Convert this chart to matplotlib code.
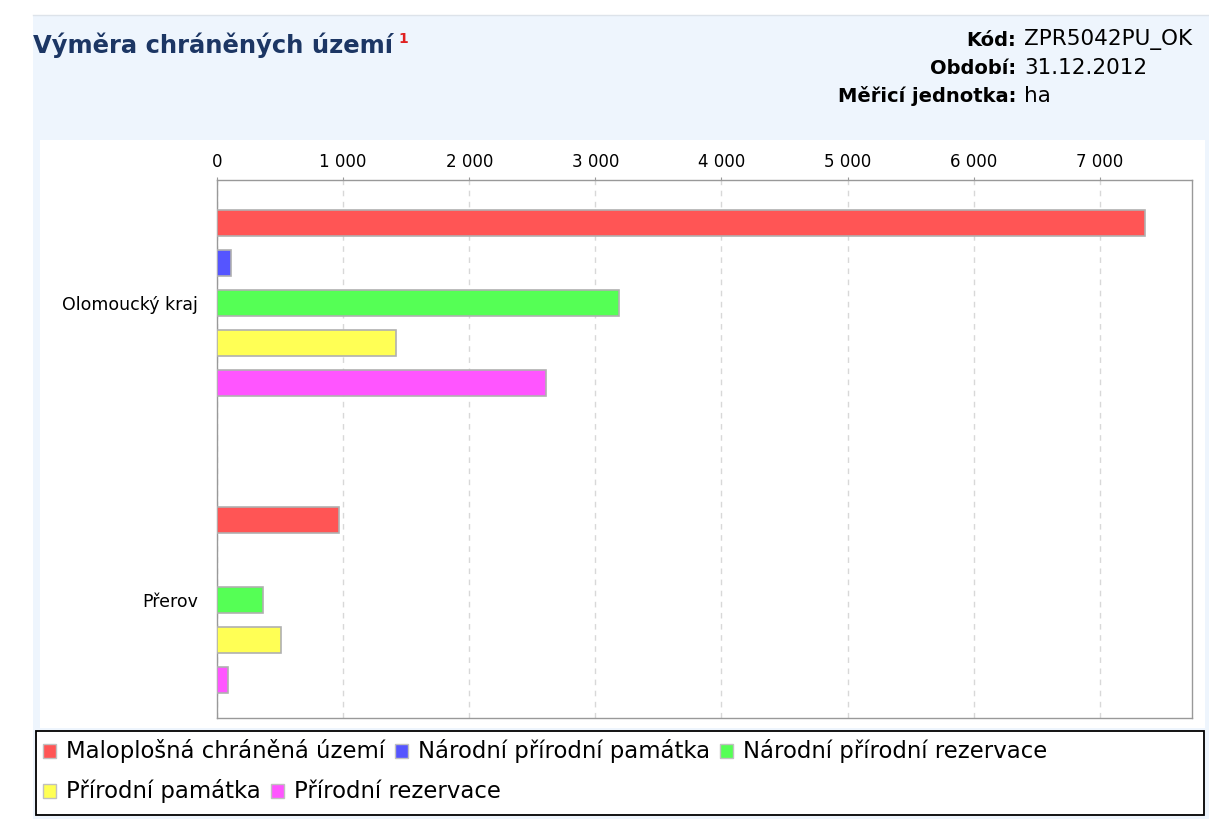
import numpy as np
import matplotlib.pyplot as plt
from matplotlib.patches import Rectangle
from matplotlib.ticker import FuncFormatter

plt.rcParams['font.family'] = ['DejaVu Sans']

# data (ha)
regions = ['Olomoucký kraj', 'Přerov']
series = ['Maloplošná chráněná území', 'Národní přírodní památka',
          'Národní přírodní rezervace', 'Přírodní památka', 'Přírodní rezervace']
maloplosna = [7360, 967]
narodni_pamatka = [111, 0]
narodni_rezervace = [3188, 365]
prirodni_pamatka = [1420, 508]
prirodni_rezervace = [2609, 87]
values = [maloplosna, narodni_pamatka, narodni_rezervace, prirodni_pamatka, prirodni_rezervace]
colors = ['#ff5555', '#5555ff', '#55ff55', '#ffff55', '#ff55ff']

W, H = 1209, 819
fig = plt.figure(figsize=(W / 100, H / 100), dpi=100)
fig.patch.set_facecolor('white')

def px(x, y):
    # pixel coords (top-left origin) -> figure fraction
    return x / W, 1 - y / H

# header / panel backgrounds
bg = '#eef5fd'
fig.patches.append(Rectangle(px(33, 819), (W - 33) / W, (819 - 15) / H,
                             transform=fig.transFigure, facecolor=bg, edgecolor='none', zorder=-5))
fig.patches.append(Rectangle(px(40, 728), (1205 - 40) / W, (728 - 140) / H,
                             transform=fig.transFigure, facecolor='white', edgecolor='none', zorder=-4))
fig.patches.append(Rectangle(px(36, 815), (1204 - 36) / W, (815 - 731) / H,
                             transform=fig.transFigure, facecolor='white', edgecolor='black',
                             linewidth=1.3, zorder=-3))
# faint tab strip on top
fig.lines.append(plt.Line2D([33 / W, 1209 / W], [1 - 15 / H, 1 - 15 / H], transform=fig.transFigure,
                            color='#dde3ea', linewidth=1))

# title and info
t = fig.text(*px(33, 45), 'Výměra chráněných území', fontsize=17.5, fontweight='bold',
             color='#1c3664', va='center', ha='left')
fig.canvas.draw()
bb = t.get_window_extent()
fig.text(bb.x1 / W + 5 / W, px(0, 39)[1], '1', fontsize=10, fontweight='bold', color='#e02020',
         va='center', ha='left')

info = [('Kód:', 'ZPR5042PU_OK'), ('Období:', '31.12.2012'), ('Měřicí jednotka:', 'ha')]
for i, (k, v) in enumerate(info):
    y = 40 + i * 28
    fig.text(*px(1016, y), k, fontsize=14, fontweight='bold', ha='right', va='center')
    fig.text(*px(1024, y), v, fontsize=15.5, ha='left', va='center')

# axes
ax = fig.add_axes([217 / W, 1 - 718 / H, (1192 - 217) / W, (718 - 180) / H])
band = 297.0
bar_h = 26 / band
step = 40 / band
y0 = np.arange(len(regions))
for j, (vals, c) in enumerate(zip(values, colors)):
    ys = y0 + (j - 2) * step
    for yy, v in zip(ys, vals):
        if v > 0:
            ax.barh(yy, v, height=bar_h, color=c, edgecolor='#b0b0b0', linewidth=1.2, zorder=3)

ax.set_ylim((718 - 303) / band, (180 - 303) / band)
ax.set_xlim(0, (1192 - 217) / 126.1 * 1000)
ax.set_yticks(y0)
ax.set_yticklabels(regions, fontsize=12.5)
ax.tick_params(axis='y', length=0, pad=13.5)
ax.xaxis.tick_top()
ax.set_xticks(np.arange(0, 8000, 1000))
ax.xaxis.set_major_formatter(FuncFormatter(lambda v, p: f'{int(v):,}'.replace(',', ' ')))
ax.tick_params(axis='x', labelsize=12, length=2.5, color='#999999', pad=4)
ax.grid(axis='x', linestyle=(0, (4, 4)), color='#d8d8d8', linewidth=1, zorder=0)
for s in ax.spines.values():
    s.set_color('#999999')
    s.set_linewidth(1)

# legend with flowing layout
fig.canvas.draw()
r = fig.canvas.get_renderer()
rows = [[0, 1, 2], [3, 4]]
for ri, row in enumerate(rows):
    x = 43
    yc = 751 + ri * 40
    for k in row:
        fig.patches.append(Rectangle(px(x, yc + 7), 13 / W, 14 / H, transform=fig.transFigure,
                                     facecolor=colors[k], edgecolor='#c0c0c0', linewidth=1, zorder=2))
        tx = fig.text(*px(x + 23, yc), series[k], fontsize=16.4, ha='left', va='center', zorder=3)
        ext = tx.get_window_extent(renderer=r)
        x = ext.x1 + 10

fig.savefig('out.png', dpi=100)
